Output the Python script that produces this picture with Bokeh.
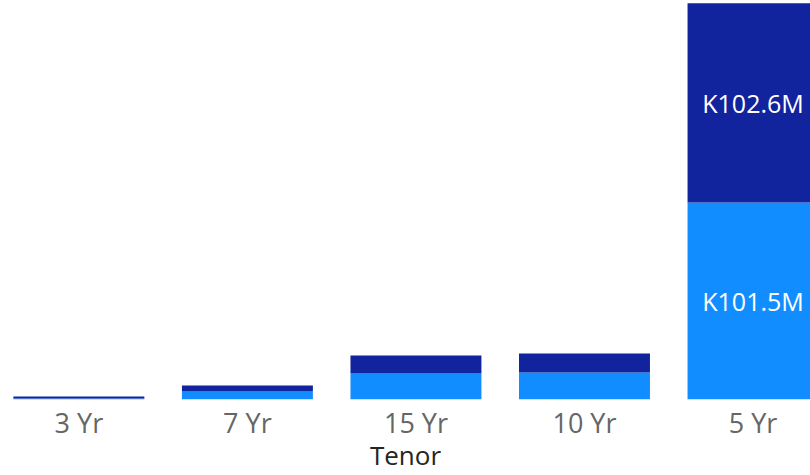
from bokeh.plotting import figure
from bokeh.models import Range1d, FixedTicker, ColumnDataSource
from bokeh.core.properties import value
from bokeh.embed import file_html
from bokeh.resources import INLINE

categories = ["3 Yr", "7 Yr", "15 Yr", "10 Yr", "5 Yr"]
lower_values = [0.5, 4.1, 13.4, 13.9, 101.5]   # light blue segment (M)
upper_values = [1.0, 3.1, 9.3, 9.8, 102.6]     # dark blue segment (M)

LIGHT = "#118DFF"
DARK = "#12239E"

xs = list(range(len(categories)))
lower_top = lower_values[:]
upper_bottom = lower_values[:]
upper_top = [a + b for a, b in zip(lower_values, upper_values)]

p = figure(width=810, height=475, output_backend="svg", toolbar_location=None,
           x_range=Range1d(-0.465, 4.341), y_range=Range1d(0, 205.5),
           min_border_left=0, min_border_right=0, min_border_top=0, min_border_bottom=0,
           y_axis_location=None)

src = ColumnDataSource(dict(x=xs, lb=[0]*len(xs), lt=lower_top, ub=upper_bottom, ut=upper_top))
p.vbar(x="x", width=0.777, bottom="lb", top="lt", source=src, fill_color=LIGHT, line_color=None)
p.vbar(x="x", width=0.777, bottom="ub", top="ut", source=src, fill_color=DARK, line_color=None)

# data labels for large segments
lx, ly, lt = [], [], []
for i in xs:
    if lower_values[i] > 20:
        lx.append(i); ly.append(lower_values[i] / 2); lt.append(f"K{lower_values[i]:.1f}M")
    if upper_values[i] > 20:
        lx.append(i); ly.append(lower_values[i] + upper_values[i] / 2); lt.append(f"K{upper_values[i]:.1f}M")
p.text(x=lx, y=ly, text=lt, text_color="white", text_font=value("Open Sans"),
       text_font_size="25px", text_align="center", text_baseline="middle")

ax = p.xaxis[0]
ax.ticker = FixedTicker(ticks=xs)
ax.major_label_overrides = {i: c for i, c in zip(xs, categories)}
ax.axis_line_color = None
ax.major_tick_line_color = None
ax.minor_tick_line_color = None
ax.major_tick_out = 0
ax.major_tick_in = 0
ax.major_label_text_font = "Open Sans"
ax.major_label_text_font_size = "27px"
ax.major_label_text_color = "#666666"
ax.major_label_standoff = 4
ax.axis_label = "Tenor"
ax.axis_label_text_font = "Open Sans"
ax.axis_label_text_font_size = "26px"
ax.axis_label_text_font_style = "normal"
ax.axis_label_text_color = "#252423"
ax.axis_label_standoff = -7

p.xgrid.grid_line_color = None
p.ygrid.grid_line_color = None
p.outline_line_color = None
p.background_fill_color = "white"
p.border_fill_color = "white"

open("out.html", "w").write(file_html(p, INLINE))
